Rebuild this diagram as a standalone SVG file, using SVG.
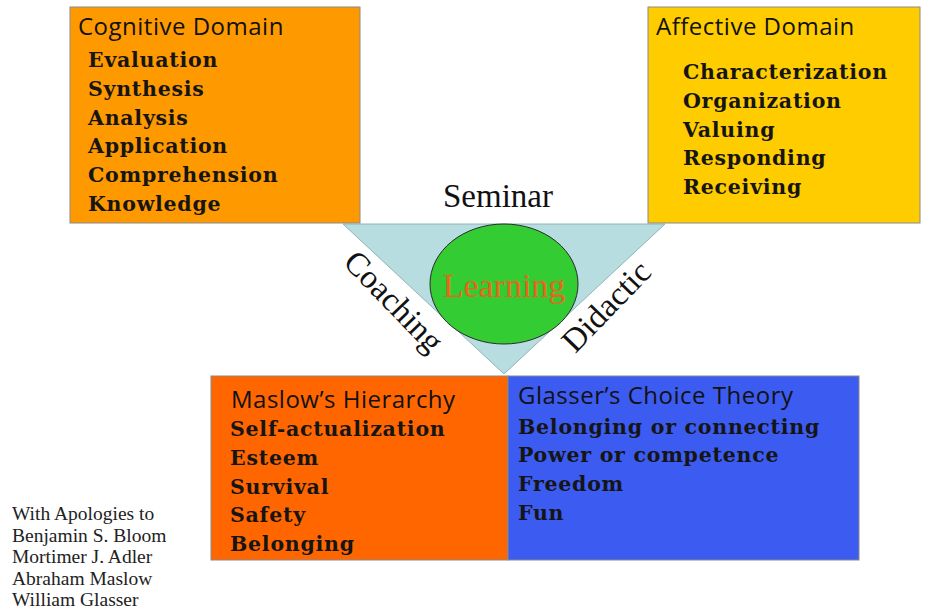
<svg xmlns="http://www.w3.org/2000/svg" width="925" height="612" viewBox="0 0 925 612">
<style>
.box{stroke:#8a8a8a;stroke-width:1}
.hdr{font-family:"Open Sans","Liberation Sans",sans-serif;font-size:24px;letter-spacing:0.5px;fill:#111}
.itm{font-family:"DejaVu Serif","Liberation Serif",serif;font-weight:bold;font-size:20.5px;letter-spacing:0.75px;fill:#151515}
.tms{font-family:"Liberation Serif","Times New Roman",serif;fill:#111}
.big{font-size:33px}
.note{font-size:19.5px;fill:#222}
.lrn{font-size:34px;fill:#e8661a}
</style>
<rect width="925" height="612" fill="#fff"/>
<g id="triangle">
<polygon points="343,224 665,224 504,374" fill="#b7dde0" stroke="#8fb3b6" stroke-width="1"/>
</g>
<g id="cognitive">
<rect class="box" x="70" y="7" width="290" height="216" fill="#ff9900"/>
<text class="hdr" x="78" y="35">Cognitive Domain</text>
<text class="itm" x="88" y="67">Evaluation</text>
<text class="itm" x="88" y="96">Synthesis</text>
<text class="itm" x="88" y="125">Analysis</text>
<text class="itm" x="88" y="153">Application</text>
<text class="itm" x="88" y="182">Comprehension</text>
<text class="itm" x="88" y="211">Knowledge</text>
</g>
<g id="affective">
<rect class="box" x="648" y="7" width="272" height="216" fill="#ffcc00"/>
<text class="hdr" x="656" y="35">Affective Domain</text>
<text class="itm" x="683" y="79">Characterization</text>
<text class="itm" x="683" y="108">Organization</text>
<text class="itm" x="683" y="137">Valuing</text>
<text class="itm" x="683" y="165">Responding</text>
<text class="itm" x="683" y="194">Receiving</text>
</g>
<g id="seminar">
<text class="tms big" x="498" y="207" text-anchor="middle">Seminar</text>
</g>
<g id="coaching">
<text class="tms big" x="0" y="0" text-anchor="middle" transform="translate(386,309) rotate(46)">Coaching</text>
</g>
<g id="didactic">
<text class="tms big" x="0" y="0" text-anchor="middle" transform="translate(614,314) rotate(-46)">Didactic</text>
</g>
<g id="learning">
<ellipse cx="504" cy="284" rx="74" ry="60" fill="#33cc33" stroke="#2a2a2a" stroke-width="1"/>
<text class="tms lrn" x="504" y="297" text-anchor="middle">Learning</text>
</g>
<g id="maslow">
<rect class="box" x="211" y="376" width="297" height="184" fill="#ff6600"/>
<text class="hdr" x="231" y="408">Maslow’s Hierarchy</text>
<text class="itm" x="230" y="436">Self-actualization</text>
<text class="itm" x="230" y="465">Esteem</text>
<text class="itm" x="230" y="494">Survival</text>
<text class="itm" x="230" y="522">Safety</text>
<text class="itm" x="230" y="551">Belonging</text>
</g>
<g id="glasser">
<rect class="box" x="508" y="376" width="351" height="184" fill="#3c5bf0"/>
<text class="hdr" x="518" y="404">Glasser’s Choice Theory</text>
<text class="itm" x="518" y="434">Belonging or connecting</text>
<text class="itm" x="518" y="462">Power or competence</text>
<text class="itm" x="518" y="491">Freedom</text>
<text class="itm" x="518" y="520">Fun</text>
</g>
<g id="apologies">
<text x="12" y="520" class="tms note">With Apologies to</text>
<text x="12" y="542" class="tms note">Benjamin S. Bloom</text>
<text x="12" y="563" class="tms note">Mortimer J. Adler</text>
<text x="12" y="585" class="tms note">Abraham Maslow</text>
<text x="12" y="606" class="tms note">William Glasser</text>
</g>
<g id="connectors"></g>
</svg>
